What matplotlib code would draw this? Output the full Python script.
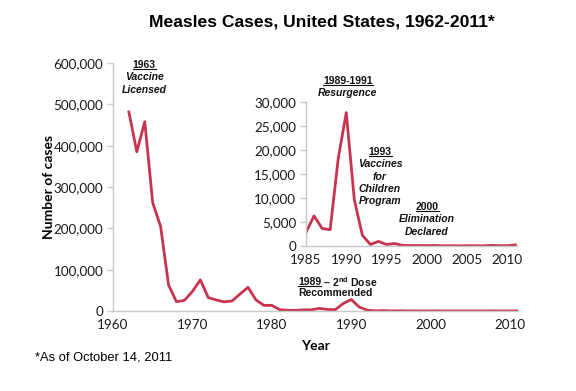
import matplotlib
matplotlib.use("Agg")
import matplotlib.pyplot as plt
from matplotlib.lines import Line2D
from matplotlib.ticker import FuncFormatter

plt.rcParams['mathtext.fontset'] = 'custom'
plt.rcParams['mathtext.bf'] = 'Liberation Sans:bold'
plt.rcParams['mathtext.rm'] = 'Liberation Sans:bold'

# reported measles cases by year
years = list(range(1962, 2012))
cases = [481530, 385156, 458083, 261904, 204136, 62705, 22231, 25826, 47351, 75290,
         32275, 26690, 22094, 24374, 41126, 57345, 26871, 13597, 13506, 3124,
         1714, 1497, 2587, 2822, 6282, 3655, 3396, 18193, 27786, 9643,
         2237, 312, 963, 309, 508, 138, 100, 100, 86, 116,
         44, 56, 37, 66, 55, 43, 140, 71, 63, 222]

inset_start = 1985
main_xticks = [1960, 1970, 1980, 1990, 2000, 2010]
main_yticks = [0, 100000, 200000, 300000, 400000, 500000, 600000]
inset_xticks = [1985, 1990, 1995, 2000, 2005, 2010]
inset_yticks = [0, 5000, 10000, 15000, 20000, 25000, 30000]

RED = '#C8344E'
GRAY = '#C8C8C8'
W, H = 576, 391
TICKFONT = 'Lato'
ANNFONT = 'Liberation Sans'

fig = plt.figure(figsize=(W / 100, H / 100), dpi=100)
fmt = FuncFormatter(lambda v, p: f'{int(v):,}')


def style_axes(ax, size):
    for s in ['top', 'right']:
        ax.spines[s].set_visible(False)
    for s in ['left', 'bottom']:
        ax.spines[s].set_color(GRAY)
        ax.spines[s].set_linewidth(1.0)
    ax.tick_params(colors=GRAY, length=4, width=1.0, labelcolor='#1a1a1a',
                   labelsize=size, pad=3)
    ax.tick_params(axis='x', length=0, pad=6)
    for lab in ax.get_xticklabels() + ax.get_yticklabels():
        lab.set_fontfamily(TICKFONT)
    ax.yaxis.set_major_formatter(fmt)
    ax.set_facecolor('none')


# main chart
ax = fig.add_axes([113 / W, 1 - 311 / H, 405 / W, 248 / H])
ax.plot(years, cases, color=RED, lw=2.0, solid_joinstyle='round')
ax.set_xlim(1960, 2011)
ax.set_ylim(0, 600000)
ax.set_xticks(main_xticks)
ax.set_yticks(main_yticks)
style_axes(ax, 9.7)
ax.set_ylabel('Number of cases', fontfamily=TICKFONT, fontweight='bold',
              fontsize=10, labelpad=-1)
ax.set_xlabel('Year', fontfamily=TICKFONT, fontweight='bold', fontsize=10,
              labelpad=6)

# inset chart
i0 = years.index(inset_start)
axi = fig.add_axes([306 / W, 1 - 246 / H, 211 / W, 144 / H])
axi.plot(years[i0:], cases[i0:], color=RED, lw=2.0, solid_joinstyle='round')
axi.set_xlim(1985, 2011.2)
axi.set_ylim(0, 30000)
axi.set_xticks(inset_xticks)
axi.set_yticks(inset_yticks)
style_axes(axi, 9.7)

fig.text(322 / W, 1 - 22 / H, 'Measles Cases, United States, 1962-2011*',
         ha='center', va='center', fontfamily=ANNFONT, fontweight='bold',
         fontsize=12.6)
fig.text(35 / W, 1 - 357 / H, '*As of October 14, 2011', ha='left',
         va='center', fontfamily=ANNFONT, fontsize=9.3)

underlined = []


def note(x, y, lines, dy=12.3, ha='center', italic=True):
    for k, s in enumerate(lines):
        t = fig.text(x / W, 1 - (y + k * dy) / H, s, ha=ha, va='center',
                     fontfamily=ANNFONT, fontweight='bold',
                     fontstyle='normal' if (k == 0 or not italic) else 'italic',
                     fontsize=7.5, color='#111111')
        if k == 0:
            underlined.append(t)


note(144, 65, ['1963', 'Vaccine', 'Licensed'])
note(348, 81, ['1989-1991', 'Resurgence'])
note(380, 152, ['1993', 'Vaccines', 'for', 'Children', 'Program'])
note(427, 207, ['2000', 'Elimination', 'Declared'])

t89 = fig.text(298 / W, 1 - 282 / H, '1989', ha='left', va='center',
               fontfamily=ANNFONT, fontweight='bold', fontsize=7.5,
               color='#111111')
underlined.append(t89)
fig.canvas.draw()
r = fig.canvas.get_renderer()
bb = t89.get_window_extent(r)
fig.text(bb.x1 / W, 1 - 282 / H, r' – 2$^{\mathrm{nd}}$ Dose', ha='left',
         va='center', fontfamily=ANNFONT, fontweight='bold', fontsize=7.5,
         color='#111111')
fig.text(298 / W, 1 - 293 / H, 'Recommended', ha='left', va='center',
         fontfamily=ANNFONT, fontweight='bold', fontsize=7.5, color='#111111')

fig.canvas.draw()
for t in underlined:
    b = t.get_window_extent(r)
    yy = (b.y0 + 1.0) / H
    fig.add_artist(Line2D([b.x0 / W, b.x1 / W], [yy, yy],
                          transform=fig.transFigure, color='#111111', lw=0.8))

fig.savefig('out.png', dpi=100)
